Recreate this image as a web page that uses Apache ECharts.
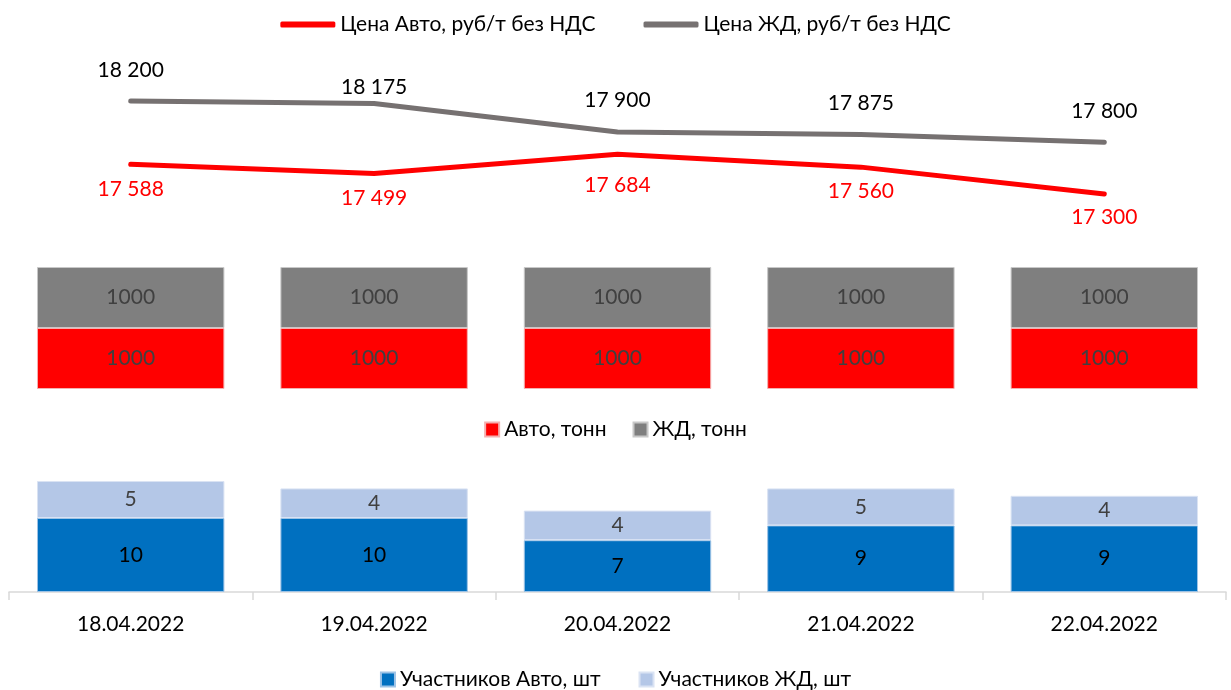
<!DOCTYPE html>
<html><head><meta charset="utf-8">
<script src="https://cdn.jsdelivr.net/npm/echarts@6/dist/echarts.min.js"></script>
<style>html,body{margin:0;padding:0;background:#fff}#c{width:1231px;height:690px}</style>
</head><body><div id="c"></div>
<script>
const categories = ['18.04.2022','19.04.2022','20.04.2022','21.04.2022','22.04.2022'];
const priceAuto = [17588, 17499, 17684, 17560, 17300];
const priceRail = [18200, 18175, 17900, 17875, 17800];
const tonsAuto = [1000, 1000, 1000, 1000, 1000];
const tonsRail = [1000, 1000, 1000, 1000, 1000];
const partAuto = [10, 10, 7, 9, 9];
const partRail = [5, 4, 4, 5, 4];

// label distances per point (style only)
const autoLabelDist = [13, 13, 19, 13, 12];
const railLabelDist = [19, 5, 20, 20, 20];

const FONT = 'Lato, "Noto Sans", sans-serif';
const fmt = v => String(v).replace(/\B(?=(\d{3})+(?!\d))/g, ' ');
const chart = echarts.init(document.getElementById('c'));
const gridLR = {left: 9, right: 5};
const legText = {fontFamily: FONT, fontSize: 21, color: '#000'};
const withDist = (vals, dists) => vals.map((v, i) => ({value: v, label: {distance: dists[i]}}));
chart.setOption({
  animation: false,
  textStyle: {fontFamily: FONT},
  legend: [
    {top: 9, left: 'center', icon: 'roundRect', itemWidth: 55, itemHeight: 6, itemGap: 48,
     textStyle: legText, data: ['Цена Авто, руб/т без НДС', 'Цена ЖД, руб/т без НДС']},
    {top: 414, left: 'center', icon: 'rect', itemWidth: 14, itemHeight: 14, itemGap: 26,
     textStyle: legText, data: ['Авто, тонн', 'ЖД, тонн']},
    {top: 664, left: 'center', icon: 'rect', itemWidth: 14, itemHeight: 14, itemGap: 38,
     textStyle: legText, data: ['Участников Авто, шт', 'Участников ЖД, шт']}
  ],
  grid: [
    Object.assign({top: 70, height: 155}, gridLR),
    Object.assign({top: 267, height: 122}, gridLR),
    Object.assign({top: 481, height: 111}, gridLR)
  ],
  xAxis: [
    {gridIndex: 0, type: 'category', data: categories, show: false},
    {gridIndex: 1, type: 'category', data: categories, show: false},
    {gridIndex: 2, type: 'category', data: categories,
     axisLine: {lineStyle: {color: '#d9d9d9', width: 1.5}},
     axisTick: {show: true, length: 8, inside: false, lineStyle: {color: '#d9d9d9', width: 1.5}},
     axisLabel: {fontFamily: FONT, fontSize: 21, color: '#000', margin: 22}}
  ],
  yAxis: [
    {gridIndex: 0, type: 'value', min: 17000, max: 18500, show: false},
    {gridIndex: 1, type: 'value', min: 0, max: 2000, show: false},
    {gridIndex: 2, type: 'value', min: 0, max: 15, show: false}
  ],
  series: [
    {name: 'Цена Авто, руб/т без НДС', type: 'line', xAxisIndex: 0, yAxisIndex: 0,
     data: withDist(priceAuto, autoLabelDist), showSymbol: true, symbol: 'circle', symbolSize: 2,
     lineStyle: {color: '#ff0000', width: 5, cap: 'round', join: 'round'}, itemStyle: {color: '#ff0000'},
     label: {show: true, position: 'bottom', formatter: p => fmt(p.value),
             color: '#ff0000', fontSize: 21, fontFamily: FONT}},
    {name: 'Цена ЖД, руб/т без НДС', type: 'line', xAxisIndex: 0, yAxisIndex: 0,
     data: withDist(priceRail, railLabelDist), showSymbol: true, symbol: 'circle', symbolSize: 2,
     lineStyle: {color: '#767171', width: 5, cap: 'round', join: 'round'}, itemStyle: {color: '#767171'},
     label: {show: true, position: 'top', formatter: p => fmt(p.value),
             color: '#000', fontSize: 21, fontFamily: FONT}},
    {name: 'Авто, тонн', type: 'bar', stack: 't', xAxisIndex: 1, yAxisIndex: 1,
     data: tonsAuto, barCategoryGap: '23%',
     itemStyle: {color: '#ff0000', borderColor: '#f4b0b0', borderWidth: 1},
     label: {show: true, position: 'inside', color: '#404040', textBorderWidth: 0, fontSize: 21, fontFamily: FONT}},
    {name: 'ЖД, тонн', type: 'bar', stack: 't', xAxisIndex: 1, yAxisIndex: 1,
     data: tonsRail, barCategoryGap: '23%',
     itemStyle: {color: '#7f7f7f', borderColor: '#c8c8c8', borderWidth: 1},
     label: {show: true, position: 'inside', color: '#404040', textBorderWidth: 0, fontSize: 21, fontFamily: FONT}},
    {name: 'Участников Авто, шт', type: 'bar', stack: 'p', xAxisIndex: 2, yAxisIndex: 2,
     data: partAuto, barCategoryGap: '23%',
     itemStyle: {color: '#0070c0', borderColor: '#9dc3e6', borderWidth: 1},
     label: {show: true, position: 'inside', color: '#000', textBorderWidth: 0, fontSize: 21, fontFamily: FONT}},
    {name: 'Участников ЖД, шт', type: 'bar', stack: 'p', xAxisIndex: 2, yAxisIndex: 2,
     data: partRail, barCategoryGap: '23%',
     itemStyle: {color: '#b4c7e7', borderColor: '#dae3f3', borderWidth: 1},
     label: {show: true, position: 'inside', color: '#404040', textBorderWidth: 0, fontSize: 21, fontFamily: FONT}}
  ]
});
</script></body></html>
